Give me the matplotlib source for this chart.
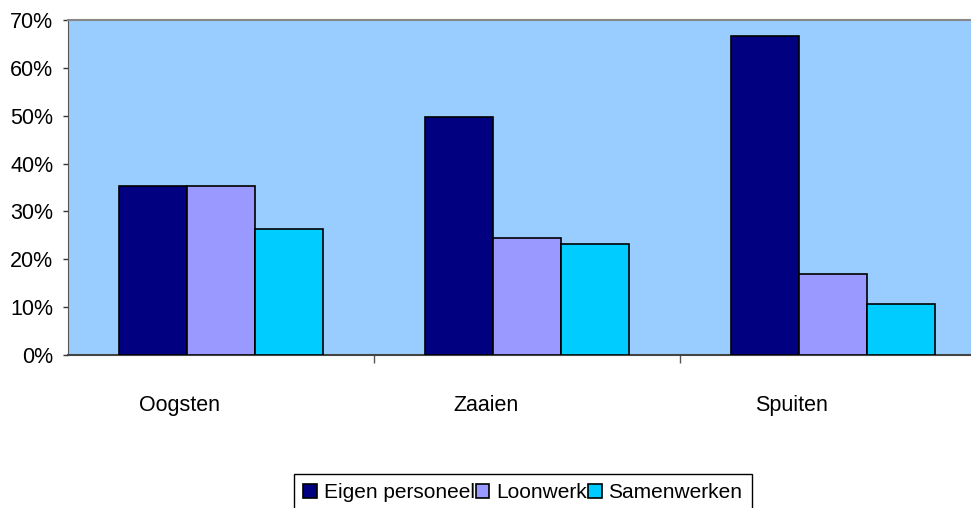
import numpy as np
import matplotlib.pyplot as plt
from matplotlib.ticker import PercentFormatter

plt.rcParams['font.family'] = ['Liberation Sans', 'DejaVu Sans']

categories = ['Oogsten', 'Zaaien', 'Spuiten']
series = ['Eigen personeel', 'Loonwerk', 'Samenwerken']
eigen = [35.3, 49.8, 66.6]
loonwerk = [35.3, 24.4, 16.9]
samenwerken = [26.3, 23.2, 10.7]
colors = ['#000080', '#9999FF', '#00CCFF']

fig = plt.figure(figsize=(9.71, 5.08), dpi=100)
# axes runs a little past the right edge, as in the original
ax = fig.add_axes([68 / 971, 1 - 355 / 508, 918 / 971, 335 / 508])
ax.set_facecolor('#99CCFF')

x = np.arange(len(categories))
w = 0.222
for i, (vals, lab) in enumerate(zip([eigen, loonwerk, samenwerken], series)):
    ax.bar(x + (i - 1) * w, vals, width=w, color=colors[i], edgecolor='black',
           linewidth=1.2, label=lab, zorder=3)

ax.set_xlim(-0.5, 2.5)
ax.set_ylim(0, 70)
ax.set_yticks(range(0, 71, 10))
ax.yaxis.set_major_formatter(PercentFormatter(decimals=0))
ax.tick_params(axis='y', labelsize=15.5, length=3.6, width=1, color='#333333', pad=7)

# category labels sit below and slightly left of the group centres
ax.set_xticks(x - 0.134)
ax.set_xticklabels(categories, fontsize=15.5)
ax.tick_params(axis='x', which='major', length=0, pad=29)
ax.set_xticks([0.5, 1.5], minor=True)
ax.tick_params(axis='x', which='minor', length=6, width=1, color='#555555')

ax.spines['top'].set_color('#888888')
ax.spines['top'].set_linewidth(1.5)
ax.spines['right'].set_visible(False)
ax.spines['left'].set_color('#555555')
ax.spines['bottom'].set_color('#444444')
ax.spines['bottom'].set_linewidth(1.5)

fig.legend(loc='upper left', bbox_to_anchor=(294 / 971, 1 - 474 / 508),
           ncol=3, fontsize=15, frameon=True, fancybox=False, edgecolor='black',
           framealpha=1, handlelength=0.65, handleheight=0.65, handletextpad=0.33,
           columnspacing=0.05, borderpad=0.45, borderaxespad=0)

plt.savefig('out.png', dpi=100)
